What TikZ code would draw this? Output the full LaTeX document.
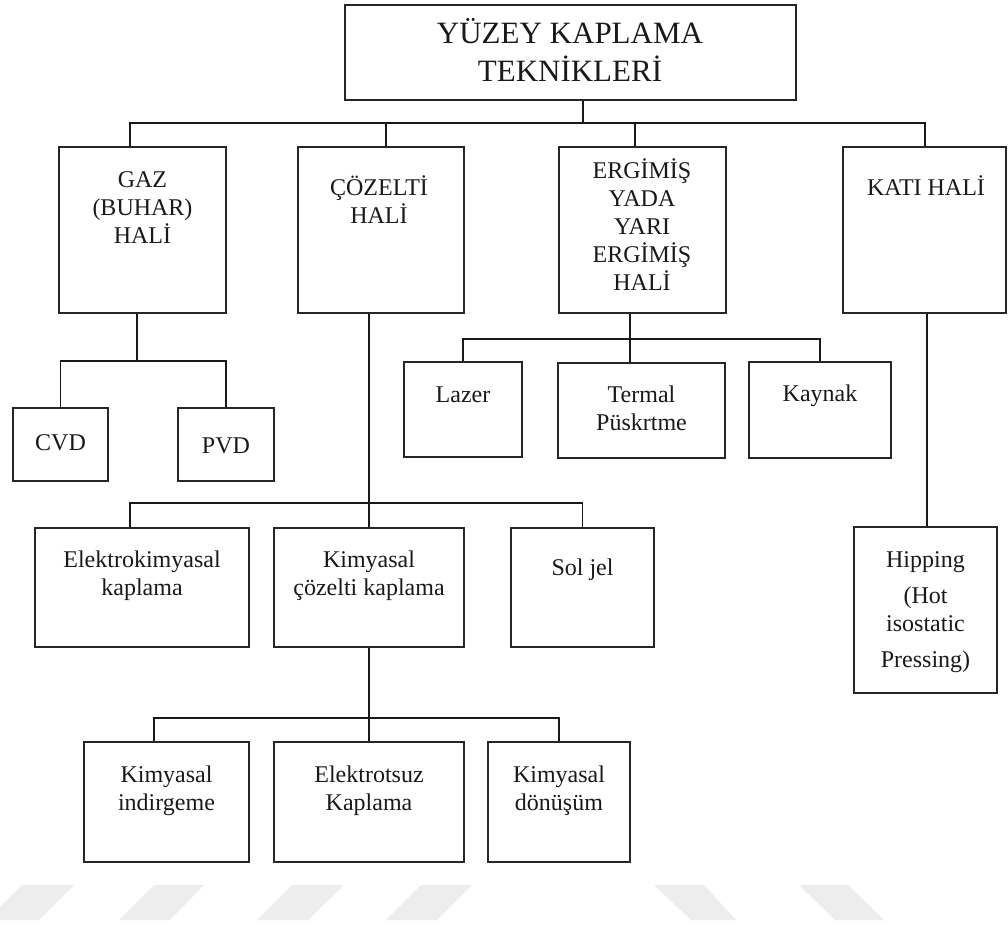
\documentclass[tikz,border=0pt]{standalone}
\usepackage{fontspec}
\setmainfont{Liberation Serif}
\usetikzlibrary{fit}
\newcommand\ra{\rule{0pt}{11pt}}
\newcommand\rb{\rule{0pt}{14pt}}
\begin{document}
\begin{tikzpicture}[x=0.5pt,y=-0.5pt,
  box/.style={draw=black!85,line width=1pt,inner sep=0pt},
  txt/.style={anchor=north,align=center,inner sep=0pt,text=black!90,font=\fontsize{12}{14}\selectfont},
  ttl/.style={anchor=north,align=center,inner sep=0pt,text=black!90,font=\fontsize{15.5}{19}\selectfont},
  conn/.style={draw=black!90,line width=0.75pt},
  wm/.style={fill=black!7,draw=none}]
\fill[white] (0,0) rectangle (1008,925);
\useasboundingbox (0,0) rectangle (1008,925);
% watermark
\begin{scope}
\clip (0,0) rectangle (1008,925);
\fill[wm] (-13,920) -- (39,920) -- (74,885) -- (22,885) -- cycle;
\fill[wm] (119,920) -- (170,920) -- (204,885) -- (154,885) -- cycle;
\fill[wm] (257,920) -- (308,920) -- (344,885) -- (292,885) -- cycle;
\fill[wm] (386,920) -- (437,920) -- (472,885) -- (421,885) -- cycle;
\fill[wm] (654,885) -- (704,885) -- (736,920) -- (691,920) -- cycle;
\fill[wm] (799,885) -- (848,885) -- (884,920) -- (835,920) -- cycle;
\end{scope}
% boxes
\node[box,fit={(345,5) (796,100)}] (top) {};
\node[box,fit={(59,147) (226,313)}] (gaz) {};
\node[box,fit={(298,147) (464,313)}] (coz) {};
\node[box,fit={(559,147) (726,313)}] (erg) {};
\node[box,fit={(843,147) (1006,313)}] (kati) {};
\node[box,fit={(13,408) (108,481)}] (cvd) {};
\node[box,fit={(178,408) (274,481)}] (pvd) {};
\node[box,fit={(404,362) (522,457)}] (laz) {};
\node[box,fit={(558,363) (725,458)}] (ter) {};
\node[box,fit={(749,362) (891,458)}] (kay) {};
\node[box,fit={(35,528) (249,647)}] (elk) {};
\node[box,fit={(274,528) (464,647)}] (kc) {};
\node[box,fit={(511,528) (654,647)}] (sol) {};
\node[box,fit={(854,527) (997,693)}] (hip) {};
\node[box,fit={(84,742) (249,862)}] (ind) {};
\node[box,fit={(274,742) (464,862)}] (ele) {};
\node[box,fit={(488,742) (630,862)}] (don) {};
% texts
\node[ttl] (top-t) at (570,15) {\rb YÜZEY KAPLAMA\\\rb TEKNİKLERİ};
\node[txt] (gaz-t) at (142.5,165) {\ra GAZ\\\ra (BUHAR)\\\ra HALİ};
\node[txt] (coz-t) at (379,173) {\ra ÇÖZELTİ\\\ra HALİ};
\node[txt] (erg-t) at (642,156) {\ra ERGİMİŞ\\\ra YADA\\\ra YARI\\\ra ERGİMİŞ\\\ra HALİ};
\node[txt] (kati-t) at (926,173) {\ra KATI HALİ};
\node[txt] (cvd-t) at (60.5,428) {\ra CVD};
\node[txt] (pvd-t) at (226,431) {\ra PVD};
\node[txt] (laz-t) at (463,380) {\ra Lazer};
\node[txt] (ter-t) at (641.5,380) {\ra Termal\\\ra Püskrtme};
\node[txt] (kay-t) at (820,379) {\ra Kaynak};
\node[txt] (elk-t) at (142,545) {\ra Elektrokimyasal\\\ra kaplama};
\node[txt] (kc-t) at (369,545) {\ra Kimyasal\\\ra çözelti kaplama};
\node[txt] (sol-t) at (582.5,553) {\ra Sol jel};
\node[txt] (hip-t) at (925.5,545) {\ra Hipping\\[4pt]\ra (Hot\\\ra isostatic\\[4pt]\ra Pressing)};
\node[txt] (ind-t) at (166.5,760) {\ra Kimyasal\\\ra indirgeme};
\node[txt] (ele-t) at (369,760) {\ra Elektrotsuz\\\ra Kaplama};
\node[txt] (don-t) at (559,760) {\ra Kimyasal\\\ra dönüşüm};
% connectors
\coordinate (t0) at (583,123);
\coordinate (t1) at (130,123);
\coordinate (t2) at (386,123);
\coordinate (t3) at (635,123);
\coordinate (t4) at (925,123);
\draw[conn] (top.south -| t0) -- (t0);
\draw[conn] (gaz.north -| t1) -- (t1) -- (t4) -- (kati.north -| t4);
\draw[conn] (t2) -- (coz.north -| t2);
\draw[conn] (t3) -- (erg.north -| t3);
\coordinate (g0) at (137,361);
\draw[conn] (gaz.south -| g0) -- (g0);
\draw[conn] (cvd.north) -- (cvd.north |- g0) -- (pvd.north |- g0) -- (pvd.north);
\coordinate (c0) at (130,503);
\draw[conn] (kc.north |- coz.south) -- (kc.north);
\draw[conn] (elk.north -| c0) -- (c0) -- (sol.north |- c0) -- (sol.north);
\coordinate (e0) at (630,339);
\draw[conn] (erg.south -| e0) -- (ter.north -| e0);
\draw[conn] (laz.north) -- (laz.north |- e0) -- (kay.north |- e0) -- (kay.north);
\coordinate (h0) at (927,0);
\draw[conn] (kati.south -| h0) -- (hip.north -| h0);
\coordinate (k0) at (154,718);
\draw[conn] (kc.south) -- (ele.north);
\draw[conn] (ind.north -| k0) -- (k0) -- (don.north |- k0) -- (don.north);
\end{tikzpicture}
\end{document}
